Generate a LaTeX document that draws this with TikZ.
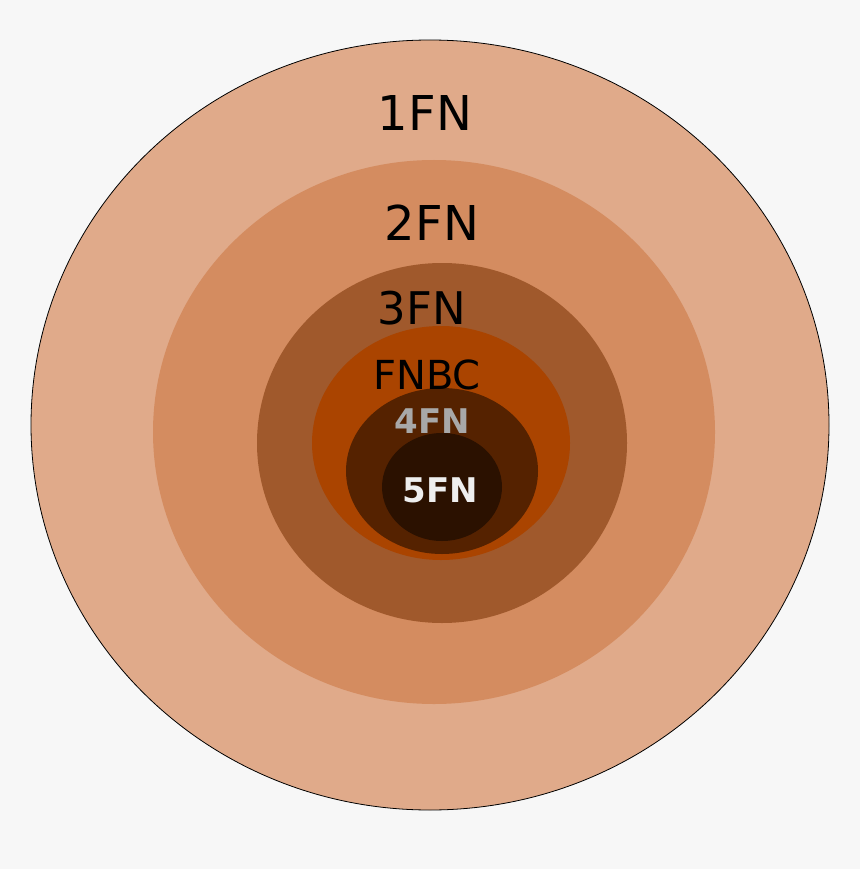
\documentclass[tikz,border=0pt]{standalone}
\usepackage{fontspec}
\setmainfont{DejaVu Sans}
\definecolor{bg}{HTML}{F7F7F7}
\definecolor{c1}{HTML}{E0AA8A}
\definecolor{c2}{HTML}{D48C60}
\definecolor{c3}{HTML}{A0592C}
\definecolor{c4}{HTML}{AA4400}
\definecolor{c5}{HTML}{552200}
\definecolor{c6}{HTML}{2B1100}
\definecolor{g4}{HTML}{A8A8A8}
\definecolor{w5}{HTML}{EEEEEE}
\tikzset{lbl/.style={inner sep=0pt,anchor=base}}
\begin{document}
\begin{tikzpicture}[x=1pt,y=-1pt]
\fill[bg] (0,0) rectangle (860,869);
\fill[c1,draw=black,line width=0.8pt] (430,425) ellipse [x radius=399,y radius=385];
\fill[c2] (434,432) ellipse [x radius=281,y radius=272];
\fill[c3] (442,443) ellipse [x radius=185,y radius=180];
\fill[c4] (441,443) ellipse [x radius=129,y radius=117];
\fill[c5] (442,471) ellipse [x radius=96,y radius=83];
\fill[c6] (442,487) ellipse [x radius=60,y radius=54];
\node[lbl,font=\fontsize{48}{48}\selectfont] (l1) at (425,131) {1FN};
\node[lbl,font=\fontsize{48}{48}\selectfont] (l2) at (432,240) {2FN};
\node[lbl,font=\fontsize{45}{45}\selectfont] (l3) at (422,324) {3FN};
\node[lbl,font=\fontsize{40}{40}\selectfont] (l4) at (427,389) {FNBC};
\node[lbl,text=g4,font=\bfseries\fontsize{34}{34}\selectfont] (l5) at (432,433) {4FN};
\node[lbl,text=w5,font=\bfseries\fontsize{34}{34}\selectfont] (l6) at (440,502) {5FN};
\end{tikzpicture}
\end{document}
